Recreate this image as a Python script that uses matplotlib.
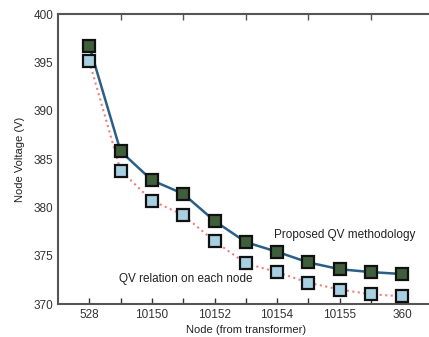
import matplotlib
matplotlib.use("Agg")
import matplotlib.pyplot as plt

plt.rcParams['font.family'] = ['Liberation Sans', 'DejaVu Sans']

# node positions along the feeder and their labels
node_pos = [1, 2, 3, 4, 5, 6, 7, 8, 9, 10, 11]
tick_labels = ['528', '', '10150', '', '10152', '', '10154', '', '10155', '', '360']

# voltages
proposed = [396.7, 385.8, 382.8, 381.4, 378.6, 376.4, 375.4, 374.3, 373.6, 373.3, 373.1]
qv_node = [395.1, 383.8, 380.7, 379.2, 376.5, 374.2, 373.3, 372.2, 371.5, 371.0, 370.8]

fig = plt.figure(figsize=(4.29, 3.37), dpi=100)
ax = fig.add_axes([58/429, 33/337, 375.6/429, 290/337])

ax.plot(node_pos, qv_node, ':', color='#f07f7f', lw=1.5, zorder=2)
ax.plot(node_pos, proposed, '-', color='#2a5e86', lw=1.8, zorder=2)
ax.plot(node_pos, qv_node, 's', ms=8, mfc='#a8cfe2', mec='#111111', mew=1.6, zorder=3)
ax.plot(node_pos, proposed, 's', ms=8, mfc='#3f5f3c', mec='#111111', mew=1.6, zorder=3)

ax.text(6.9, 377.1, 'Proposed QV methodology', fontsize=8.5, color='#222222', va='center')
ax.text(1.96, 372.6, 'QV relation on each node', fontsize=8.5, color='#222222', va='center')

ax.set_xlim(0, 12)
ax.set_ylim(370, 400)
ax.set_xticks(node_pos)
ax.set_xticklabels(tick_labels)
ax.set_yticks([370, 375, 380, 385, 390, 395, 400])
ax.tick_params(labelsize=8.5, colors='#333333', direction='in', length=4, width=1)
ax.tick_params(axis='y', length=0)

# small ticks along the top edge
top = ax.secondary_xaxis('top')
top.set_xticks([2, 4, 6, 8, 10])
top.set_xticklabels([])
top.tick_params(direction='in', length=4, width=1, colors='#555555')
top.spines['top'].set_visible(False)

for side in ['left', 'bottom', 'top']:
    ax.spines[side].set_color('#555555')
    ax.spines[side].set_linewidth(1.5)
ax.spines['right'].set_visible(False)

ax.set_xlabel('Node (from transformer)', fontsize=8, color='#222222', labelpad=3)
ax.set_ylabel('Node Voltage (V)', fontsize=8, color='#222222', labelpad=6)

fig.savefig('out.png', dpi=100)
